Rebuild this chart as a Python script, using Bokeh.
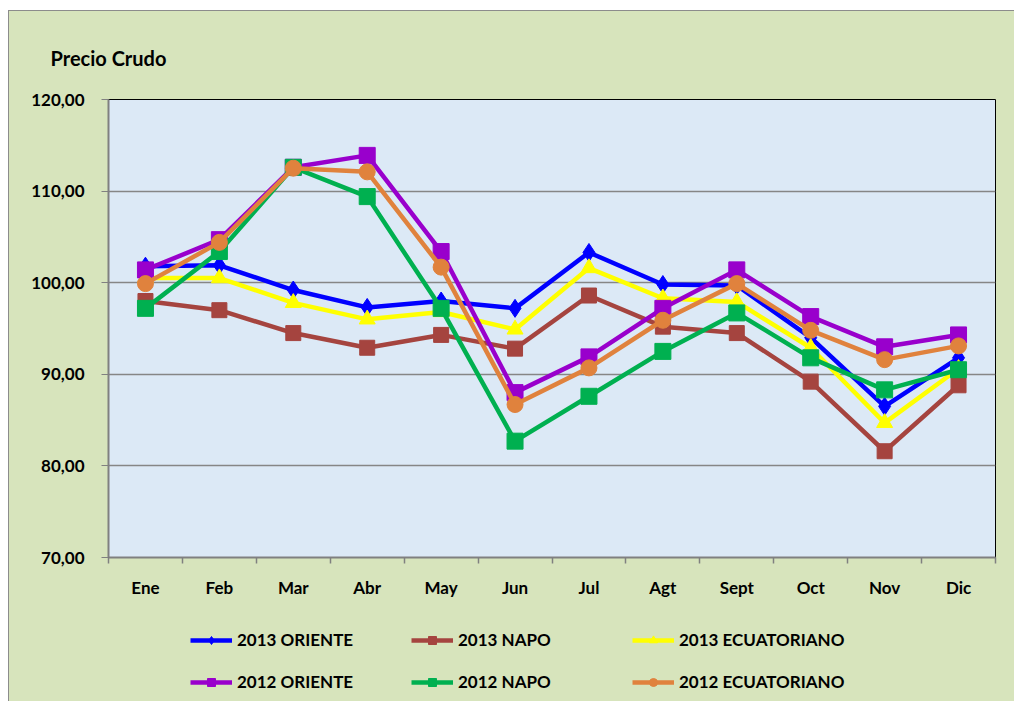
from bokeh.plotting import figure
from bokeh.models import FixedTicker, Legend, LegendItem
from bokeh.layouts import column
from bokeh.embed import file_html
from bokeh.resources import INLINE

months = ["Ene", "Feb", "Mar", "Abr", "May", "Jun", "Jul", "Agt", "Sept", "Oct", "Nov", "Dic"]
oriente_2013 = [101.8, 101.9, 99.2, 97.3, 98.0, 97.2, 103.3, 99.8, 99.7, 94.0, 86.5, 91.8]
napo_2013 = [98.0, 97.0, 94.5, 92.9, 94.3, 92.8, 98.6, 95.2, 94.5, 89.2, 81.6, 88.8]
ecuatoriano_2013 = [100.5, 100.5, 97.8, 96.0, 96.8, 94.9, 101.6, 98.3, 97.9, 92.9, 84.7, 90.6]
oriente_2012 = [101.4, 104.7, 112.6, 113.9, 103.4, 88.0, 91.9, 97.2, 101.4, 96.3, 93.0, 94.3]
napo_2012 = [97.2, 103.4, 112.6, 109.4, 97.2, 82.7, 87.6, 92.5, 96.7, 91.8, 88.3, 90.5]
ecuatoriano_2012 = [99.9, 104.4, 112.5, 112.1, 101.7, 86.7, 90.7, 95.9, 99.9, 94.8, 91.6, 93.1]
y_ticks = [70, 80, 90, 100, 110, 120]
y_tick_labels = ["70,00", "80,00", "90,00", "100,00", "110,00", "120,00"]

series = [
    ("2013 ORIENTE", oriente_2013, "#0000FF", "diamond", 18),
    ("2013 NAPO", napo_2013, "#A5443F", "square", 15),
    ("2013 ECUATORIANO", ecuatoriano_2013, "#FFFF00", "triangle", 16),
    ("2012 ORIENTE", oriente_2012, "#9900CC", "square", 16),
    ("2012 NAPO", napo_2012, "#00B050", "square", 16),
    ("2012 ECUATORIANO", ecuatoriano_2012, "#E0823D", "circle", 16),
]
# legend is filled column by column: order so rows read 2013 / 2012
legend_order = [0, 3, 1, 4, 2, 5]

bg = "#D7E4BC"
p = figure(width=1005, height=610, output_backend="svg", toolbar_location=None,
           x_range=(0, 12), y_range=(70, 120),
           min_border_left=99, min_border_right=19, min_border_top=88, min_border_bottom=64,
           background_fill_color="#DCE9F6", border_fill_color=bg,
           title="Precio Crudo")

p.title.text_font = "Lato"
p.title.text_font_style = "bold"
p.title.text_font_size = "20px"
p.title.text_color = "#000000"
p.title.align = "left"
p.title.offset = -58
p.title.standoff = 59

p.outline_line_color = "#000000"
p.outline_line_width = 1

xs = [i + 0.5 for i in range(len(months))]

for name, vals, col, mk, sz in series:
    p.line(xs, vals, line_color=col, line_width=4.5)
    p.scatter(xs, vals, marker=mk, size=sz, fill_color=col, line_color=col)

# axes
p.yaxis.ticker = FixedTicker(ticks=y_ticks, minor_ticks=[])
p.yaxis.major_label_overrides = {t: l for t, l in zip(y_ticks, y_tick_labels)}
p.yaxis.axis_line_color = "#808080"
p.yaxis.axis_line_width = 2
p.yaxis.major_tick_line_color = "#808080"
p.yaxis.major_tick_out = 7
p.yaxis.major_tick_in = 0
p.yaxis.minor_tick_line_color = None
p.yaxis.major_label_text_font = "Lato"
p.yaxis.major_label_text_font_style = "bold"
p.yaxis.major_label_text_font_size = "17px"
p.yaxis.major_label_text_color = "#000000"
p.yaxis.major_label_standoff = 17

p.xaxis.ticker = FixedTicker(ticks=xs, minor_ticks=list(range(0, 13)))
p.xaxis.major_label_overrides = {x: m for x, m in zip(xs, months)}
p.xaxis.axis_line_color = "#808080"
p.xaxis.axis_line_width = 2
p.xaxis.major_tick_line_color = None
p.xaxis.major_tick_out = 0
p.xaxis.major_tick_in = 0
p.xaxis.minor_tick_line_color = "#808080"
p.xaxis.minor_tick_line_width = 1.5
p.xaxis.minor_tick_out = 6
p.xaxis.minor_tick_in = 0
p.xaxis.major_label_text_font = "Lato"
p.xaxis.major_label_text_font_style = "bold"
p.xaxis.major_label_text_font_size = "17px"
p.xaxis.major_label_text_color = "#000000"
p.xaxis.major_label_standoff = 13

p.xgrid.grid_line_color = None
p.ygrid.grid_line_color = "#868686"
p.ygrid.grid_line_width = 1.5

# legend strip: same series, drawn out of view, only their legend entries show
q = figure(width=1005, height=80, output_backend="svg", toolbar_location=None,
           x_range=(100, 101), y_range=(0, 1), x_axis_type=None, y_axis_type=None,
           min_border=0, background_fill_alpha=0, border_fill_alpha=0)
q.outline_line_color = None
q.xgrid.visible = False
q.ygrid.visible = False
renderers = []
for name, vals, col, mk, sz in series:
    lr = q.line(xs, vals, line_color=col, line_width=4.5)
    sr = q.scatter(xs, vals, marker=mk, size=sz, fill_color=col, line_color=col)
    renderers.append((name, lr, sr))
items = [LegendItem(label=renderers[i][0], renderers=[renderers[i][1], renderers[i][2]])
         for i in legend_order]

legend = Legend(items=items, ncols=3, location=(82, 9),
                background_fill_alpha=0, border_line_color=None,
                padding=0, margin=0, spacing=21,
                glyph_width=42, glyph_height=20, label_height=20,
                label_width=153, label_standoff=5,
                label_text_font="Lato", label_text_font_style="bold",
                label_text_font_size="17px", label_text_color="#000000")
q.add_layout(legend, "center")

layout = column(p, q, spacing=0)
layout.styles = {"margin-left": "8px", "margin-top": "10px", "background-color": bg,
                 "border-left": "1px solid #8c8c8c", "border-top": "1px solid #8c8c8c"}

open("out.html", "w").write(file_html(layout, INLINE))
